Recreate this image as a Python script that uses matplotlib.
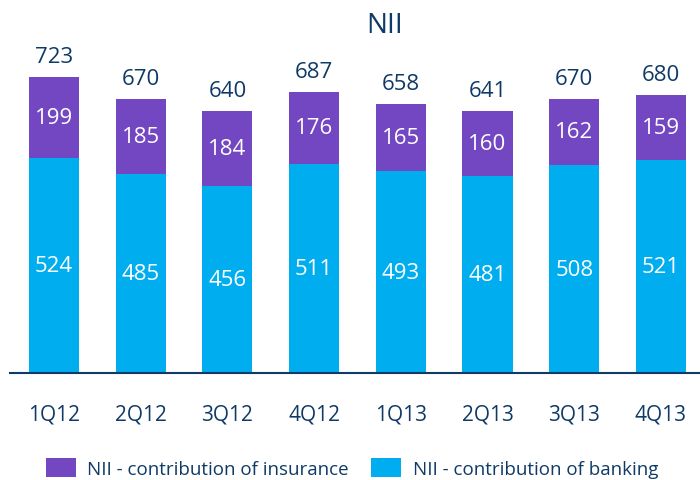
import matplotlib.pyplot as plt
import numpy as np

quarters = ['1Q12', '2Q12', '3Q12', '4Q12', '1Q13', '2Q13', '3Q13', '4Q13']
banking = [524, 485, 456, 511, 493, 481, 508, 521]
insurance = [199, 185, 184, 176, 165, 160, 162, 159]

navy = '#0f3a66'
purple = '#7347c2'
blue = '#00aeef'

plt.rcParams['font.family'] = ['Open Sans', 'DejaVu Sans']


def main():
    fig = plt.figure(figsize=(7, 4.81), dpi=100)
    ax = fig.add_axes([10 / 700, 107 / 481, 690 / 700, 374 / 481])

    x = np.arange(len(quarters))
    totals = np.array(banking) + np.array(insurance)
    w = 0.577

    b1 = ax.bar(x, banking, w, color=blue, label='NII - contribution of banking')
    b2 = ax.bar(x, insurance, w, bottom=banking, color=purple,
                label='NII - contribution of insurance')

    for i in range(len(x)):
        ax.text(x[i], banking[i] / 2, str(banking[i]), ha='center', va='center',
                color='white', fontsize=16)
        ax.text(x[i], banking[i] + insurance[i] / 2, str(insurance[i]), ha='center',
                va='center', color='white', fontsize=16)
        ax.text(x[i], totals[i] + 50, str(totals[i]), ha='center', va='center',
                color=navy, fontsize=16)

    ax.set_xlim(-0.5075, 7.451)
    ax.set_ylim(0, 913.5)
    for s in ['top', 'right', 'left']:
        ax.spines[s].set_visible(False)
    ax.spines['bottom'].set_color(navy)
    ax.spines['bottom'].set_linewidth(1.5)
    ax.set_yticks([])
    ax.set_xticks(x)
    ax.set_xticklabels(quarters, color=navy, fontsize=15)
    ax.tick_params(axis='x', length=0, pad=22)

    fig.text(385 / 700, 1 - 26 / 481, 'NII', ha='center', va='center',
             color=navy, fontsize=20)

    fig.legend([b2, b1], ['NII - contribution of insurance', 'NII - contribution of banking'],
               loc='center', bbox_to_anchor=(352 / 700, 1 - 469 / 481), ncol=2, frameon=False,
               fontsize=13.5, labelcolor=navy, handlelength=1.6, handleheight=1.2,
               columnspacing=1.2, handletextpad=0.6)

    fig.savefig('out.png', dpi=100)


if __name__ == '__main__':
    main()
